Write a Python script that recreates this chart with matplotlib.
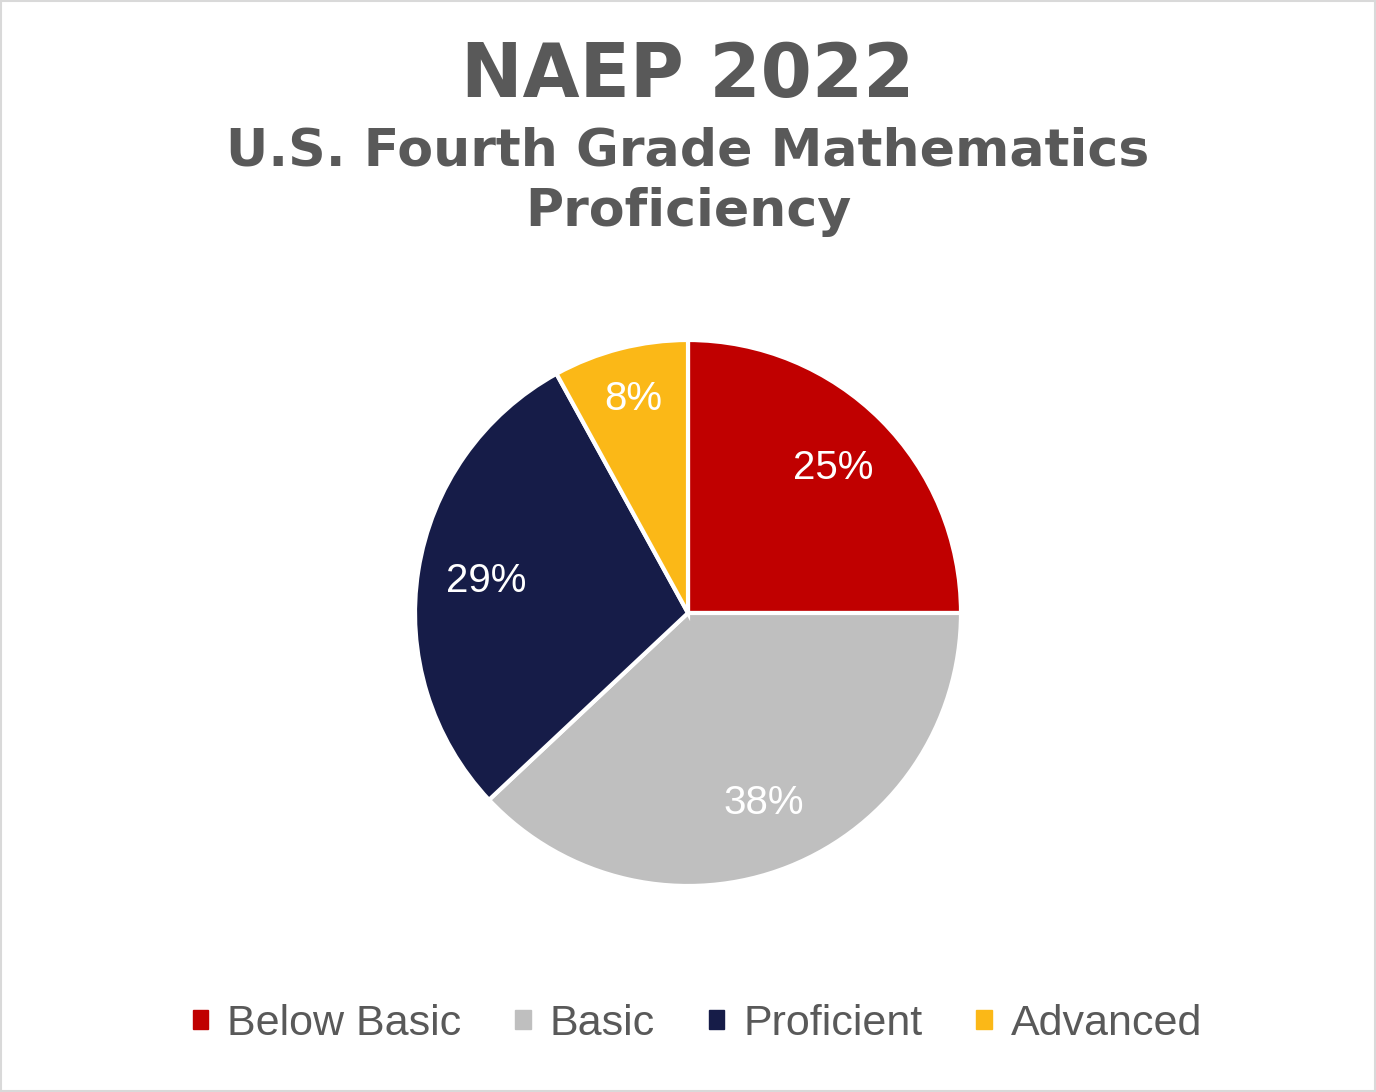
import matplotlib.pyplot as plt
from matplotlib.patches import Rectangle

# data
levels = ['Below Basic', 'Basic', 'Proficient', 'Advanced']
shares = [25, 38, 29, 8]
colors = ['#C00000', '#BFBFBF', '#161C48', '#FBB817']

plt.rcParams['font.family'] = ['Liberation Sans', 'DejaVu Sans']

fig = plt.figure(figsize=(13.76, 10.92), dpi=100)
W, H = 1376, 1092

# light frame round the chart
fig.patches.append(Rectangle((0.001, 0.001), 0.998, 0.998, transform=fig.transFigure,
                             fill=False, edgecolor='#D9D9D9', linewidth=1.5))

# pie centred at (688, 613) px, radius 272 px
cx, cy, r = 688, 613, 273
ax = fig.add_axes([(cx - r) / W, (H - cy - r) / H, 2 * r / W, 2 * r / H])
wedges, texts, autotexts = ax.pie(shares, colors=colors, startangle=90, counterclock=False,
                                  autopct='%d%%', pctdistance=0.75,
                                  wedgeprops=dict(edgecolor='white', linewidth=3))
for t in autotexts:
    t.set_color('white')
    t.set_fontsize(29)
# small slice label sits a little further out
x, y = autotexts[3].get_position()
autotexts[3].set_position((x * 1.08, y * 1.08))
ax.set_xlim(-1, 1)
ax.set_ylim(-1, 1)
ax.set_aspect('equal')

fig.text(0.5, 1 - 76 / H, 'NAEP 2022', ha='center', va='center', family='DejaVu Sans',
         fontsize=53, fontweight='bold', color='#595959')
fig.text(0.5, 1 - 165 / H, 'U.S. Fourth Grade Mathematics', ha='center', va='baseline',
         family='DejaVu Sans', fontsize=37.5, fontweight='bold', color='#595959')
fig.text(0.5, 1 - 226 / H, 'Proficiency', ha='center', va='baseline',
         family='DejaVu Sans', fontsize=37.5, fontweight='bold', color='#595959')

handles = [Rectangle((0, 0), 1, 1, color=c) for c in colors]
fig.legend(handles, levels, loc='center', bbox_to_anchor=(0.507, 1 - 1024 / H), ncol=4,
           frameon=False, fontsize=31, labelcolor='#595959', handlelength=0.35,
           handleheight=0.3, handletextpad=0.45, columnspacing=1.25)

fig.savefig('out.png', dpi=100)
